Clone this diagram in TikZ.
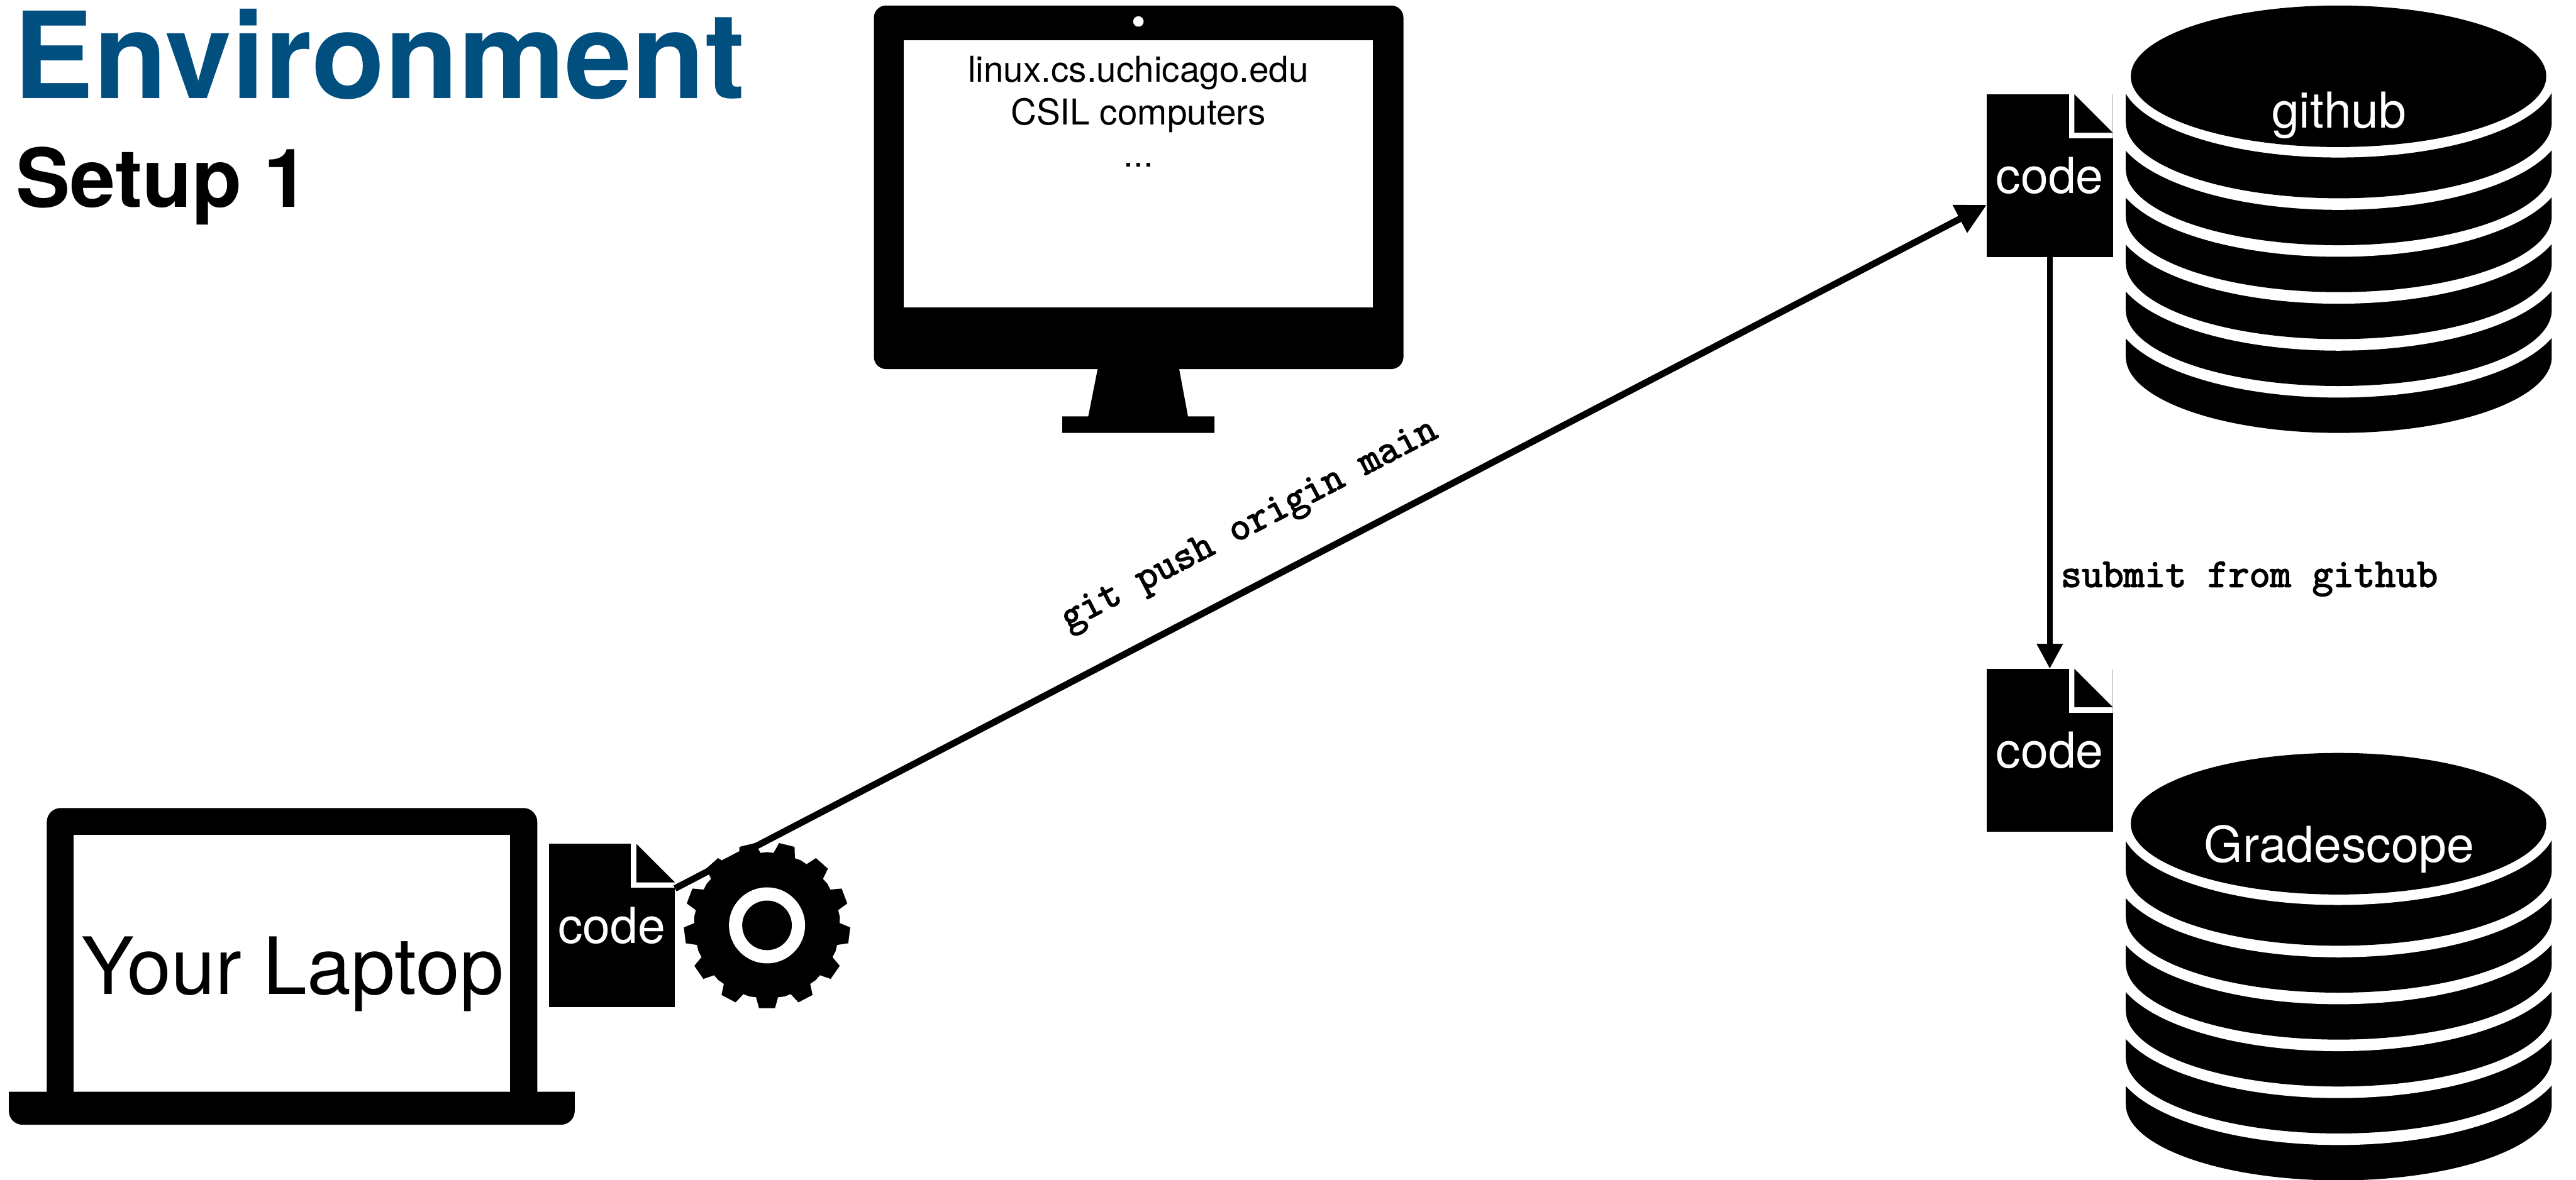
\documentclass[tikz,border=0pt]{standalone}
\usepackage{fontspec}
\setmainfont{TeX Gyre Heros}
\newfontfamily\cmdfont{Latin Modern Mono}[FakeBold=2.6]
\usetikzlibrary{arrows.meta,positioning,calc}
\definecolor{titleblue}{HTML}{004F7F}

\begin{document}
\begin{tikzpicture}[
  every node/.style={inner sep=0mm, outer sep=0mm},
  titletext/.style={font=\fontsize{62}{70}\selectfont\bfseries, text=titleblue, anchor=base west},
  subtext/.style={font=\fontsize{42}{48}\selectfont\bfseries, anchor=base west},
  screentext/.style={font=\fontsize{18.4}{21.9}\selectfont, align=center, anchor=north},
  laptoptext/.style={font=\fontsize{40.8}{46}\selectfont, anchor=base},
  dblabel/.style={font=\fontsize{25.6}{30}\selectfont, text=white, anchor=base},
  cmdlabel/.style={font=\fontsize{21}{24}\selectfont\cmdfont},
  codefile/.style={fill=black, text=white, font=\fontsize{25.6}{30}\selectfont,
    minimum width=2.29cm, minimum height=2.96cm,
    path picture={
      \fill[white] ([xshift=-0.80cm]path picture bounding box.north east) rectangle ([yshift=-0.80cm]path picture bounding box.north east);
      \fill[black] ([xshift=-0.70cm]path picture bounding box.north east) -- ([yshift=-0.70cm]path picture bounding box.north east) -- ([xshift=-0.70cm,yshift=-0.70cm]path picture bounding box.north east) -- cycle;
    }},
  rel/.style={-{Triangle[length=4.5mm,width=4.5mm]}, line width=1mm},
  pushrel/.style={-{Triangle[length=5.5mm,width=5.4mm]}, line width=1.2mm}
]
\useasboundingbox (0,0) rectangle (46.75,-21.42);

% headings
\node[titletext] (title) at (0.25,-1.79) {Environment};
\node[subtext] (setup) at (0.29,-3.76) {Setup 1};

% desktop monitor
\fill[black, rounded corners=2.2mm] (15.86,-0.10) rectangle (25.47,-6.70);
\fill[white] (16.40,-0.73) rectangle (24.92,-5.58);
\fill[white] (20.66,-0.39) circle (0.095);
\fill[black] (19.92,-6.70) -- (21.40,-6.70) -- (21.56,-7.56) -- (22.04,-7.56) -- (22.04,-7.86) -- (19.28,-7.86) -- (19.28,-7.56) -- (19.75,-7.56) -- cycle;
\node[screentext] (machines) at (20.66,-1.02) {linux.cs.uchicago.edu\\CSIL computers\\...};

% laptop
\fill[black, rounded corners=2.5mm] (0.85,-20.30) -- (0.85,-14.67) -- (9.75,-14.67) -- (9.75,-20.30) -- cycle;
\fill[white] (1.33,-15.16) rectangle (9.26,-19.82);
\fill[black] (0.16,-19.82) [rounded corners=2.5mm] -- (0.16,-20.42) -- (10.43,-20.42) [sharp corners] -- (10.43,-19.82) -- cycle;
\node[laptoptext] (laptop) at (5.31,-18.05) {Your Laptop};

% gear
\begin{scope}[shift={(13.92,-16.80)}]
\fill[black] (-98.7:1.32) \foreach [evaluate=\i as \a using -90+\i*360/13] \i in {0,...,12} {
    -- ({\a-8.7}:1.32) -- ({\a-5.5}:1.51) -- ({\a+5.5}:1.51) -- ({\a+8.7}:1.32) -- ({\a+13.85}:1.33)
  } -- cycle;
\fill[white] (0,0) circle (0.69);
\fill[black] (0,0) circle (0.45);
\end{scope}

% database stacks
\foreach \off/\top/\name/\lbl in {0/-2.32/hubdb/github, 13.57/-15.65/gradedb/Gradescope} {
  \begin{scope}[yshift=-\off cm]
  \foreach \k in {5,...,0} {
    \pgfmathsetmacro{\cy}{-2.22-0.852*\k}
    \fill[white] (42.44,\cy) ellipse [x radius=4.08, y radius=1.59];
    \fill[black] (38.58,\cy+0.852) -- (38.58,\cy) arc[start angle=180, end angle=360, x radius=3.865, y radius=1.38] -- (46.31,\cy+0.852) -- cycle;
  }
  \fill[white] (42.44,-1.385) ellipse [x radius=3.95, y radius=1.475];
  \fill[black] (42.44,-1.385) ellipse [x radius=3.77, y radius=1.285];
  \end{scope}
  \node[dblabel] (\name) at (42.45,\top) {\lbl};
}

% code files
\node[codefile] (lapcode) at (11.105,-16.80) {code};
\node[codefile] (hubcode) at (37.20,-3.19) {code};
\node[codefile] (gradecode) at (37.20,-13.62) {code};

% connectors
\draw[pushrel] ([yshift=-0.81cm]lapcode.north east) -- node[cmdlabel, sloped, above=0.69cm, pos=0.458] (pushlabel) {git push origin main} ([yshift=-0.53cm]hubcode.west);
\draw[rel] (hubcode.south) -- node[cmdlabel, right=2mm, pos=0.782] (submitlabel) {submit from github} (gradecode.north);
\end{tikzpicture}
\end{document}
